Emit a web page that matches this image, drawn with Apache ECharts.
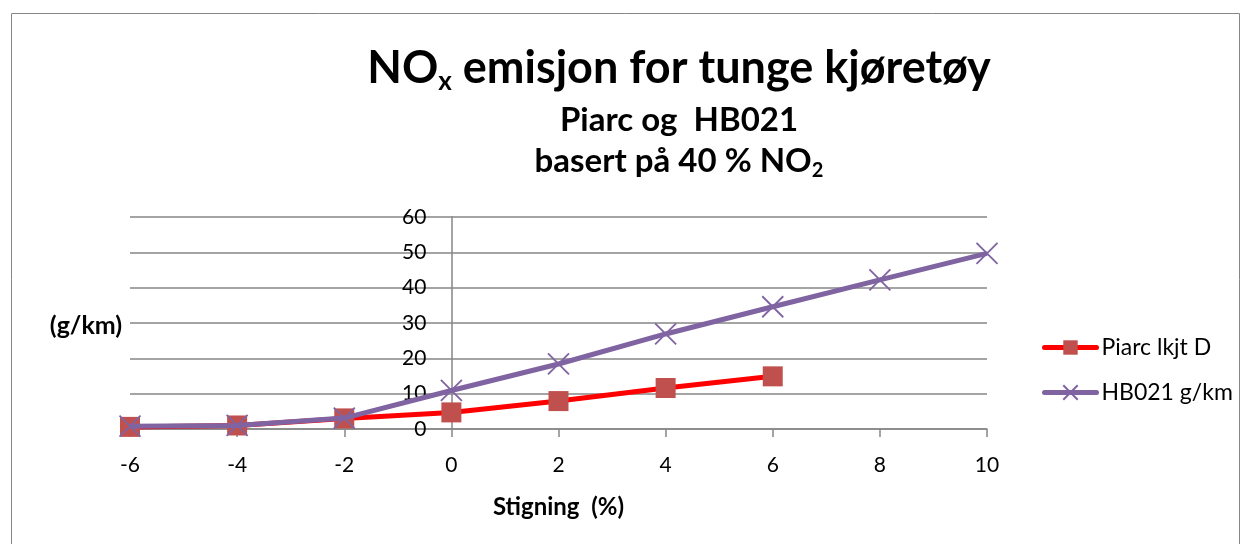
<!DOCTYPE html>
<html>
<head>
<meta charset="utf-8">
<script src="https://cdn.jsdelivr.net/npm/echarts@6/dist/echarts.min.js"></script>
<style>html,body{margin:0;padding:0;background:#fff}#c{width:1248px;height:544px}</style>
</head>
<body>
<div id="c"></div>
<script>
const xValues = [-6, -4, -2, 0, 2, 4, 6, 8, 10];
const piarcValues = [0.6, 1.0, 3.0, 4.7, 7.9, 11.6, 14.9];
const hb021Values = [0.8, 1.0, 3.1, 10.9, 18.4, 26.9, 34.6, 42.2, 49.7];
const seriesNames = ['Piarc lkjt D', 'HB021 g/km'];
const xTickMin = -6, xTickMax = 10, xTickStep = 2;
const yTickMin = 0, yTickMax = 60, yTickStep = 10;

const FONT = 'Lato';
const GRID = '#868686';
const GRID_LEFT = 130, GRID_RIGHT = 261;
const PLOT_W = 1248 - GRID_LEFT - GRID_RIGHT;
// y axis crosses at x = 0: shift it from the left edge of the plot
const yAxisOffset = -((0 - xTickMin) / (xTickMax - xTickMin)) * PLOT_W;

const chart = echarts.init(document.getElementById('c'));
const toPairs = (vals) => vals.map((v, i) => [xValues[i], v]);

chart.setOption({
  backgroundColor: '#fff',
  animation: false,
  textStyle: { fontFamily: FONT },
  grid: { left: GRID_LEFT, right: GRID_RIGHT, top: 217, bottom: 115, containLabel: false },
  xAxis: {
    type: 'value', min: xTickMin, max: xTickMax, interval: xTickStep,
    name: 'Stigning  (%)', nameLocation: 'middle', nameGap: 66,
    nameTextStyle: { fontFamily: FONT, fontWeight: 'bold', fontSize: 24, color: '#000' },
    axisLine: { show: true, onZero: true, lineStyle: { color: GRID, width: 1.5 } },
    axisTick: { show: true, length: 8, lineStyle: { color: GRID, width: 1.5 } },
    axisLabel: { fontFamily: FONT, fontSize: 21, color: '#000', margin: 26 },
    splitLine: { show: false }
  },
  yAxis: {
    type: 'value', min: yTickMin, max: yTickMax, interval: yTickStep,
    position: 'left', offset: yAxisOffset,
    axisLine: { show: true, onZero: false, lineStyle: { color: GRID, width: 1.5 } },
    axisTick: { show: false },
    axisLabel: { fontFamily: FONT, fontSize: 21, color: '#000', margin: 25 },
    splitLine: { show: true, lineStyle: { color: GRID, width: 1.5 } }
  },
  legend: {
    orient: 'vertical', left: 1042, top: 336, itemGap: 22, padding: 0,
    itemWidth: 52, itemHeight: 18,
    lineStyle: { width: 5, cap: 'round' },
    textStyle: { fontFamily: FONT, fontSize: 23, color: '#000' },
    data: seriesNames
  },
  graphic: [
    { type: 'rect', shape: { x: 11.5, y: 13.5, width: 1228, height: 540 }, style: { fill: 'none', stroke: GRID, lineWidth: 1 }, silent: true },
    { type: 'text', x: 679, y: 41, style: {
        text: '{m|NO}{s|x}{m| emisjon for tunge kjøretøy}', align: 'center', verticalAlign: 'top',
        rich: {
          m: { fontFamily: FONT, fontWeight: 'bold', fontSize: 45, lineHeight: 54, verticalAlign: 'middle', fill: '#000' },
          s: { fontFamily: FONT, fontWeight: 'bold', fontSize: 26, lineHeight: 26, verticalAlign: 'bottom', fill: '#000' }
        } } },
    { type: 'text', x: 679, y: 120, style: { text: 'Piarc og  HB021', align: 'center', verticalAlign: 'middle',
        fontFamily: FONT, fontWeight: 'bold', fontSize: 33, fill: '#000' } },
    { type: 'text', x: 679, y: 141, style: {
        text: '{m|basert på 40 % NO}{s|2}', align: 'center', verticalAlign: 'top',
        rich: {
          m: { fontFamily: FONT, fontWeight: 'bold', fontSize: 33, lineHeight: 40, verticalAlign: 'middle', fill: '#000' },
          s: { fontFamily: FONT, fontWeight: 'bold', fontSize: 20, lineHeight: 20, verticalAlign: 'bottom', fill: '#000' }
        } } },
    { type: 'text', x: 86, y: 326, style: { text: '(g/km)', align: 'center', verticalAlign: 'middle',
        fontFamily: FONT, fontWeight: 'bold', fontSize: 25, fill: '#000' } }
  ],
  series: [
    {
      name: seriesNames[0], type: 'line', data: toPairs(piarcValues),
      symbol: 'rect', symbolSize: 20,
      lineStyle: { color: '#FF0000', width: 5 },
      itemStyle: { color: '#C0504D' },
      z: 2
    },
    {
      name: seriesNames[1], type: 'line', data: toPairs(hb021Values),
      symbol: 'path://M0,0L10,10M10,0L0,10', symbolSize: 21, symbolKeepAspect: true,
      lineStyle: { color: '#8064A2', width: 5 },
      itemStyle: { color: 'rgba(0,0,0,0)', borderColor: '#8064A2', borderWidth: 1.8 },
      z: 3
    }
  ]
});
</script>
</body>
</html>
